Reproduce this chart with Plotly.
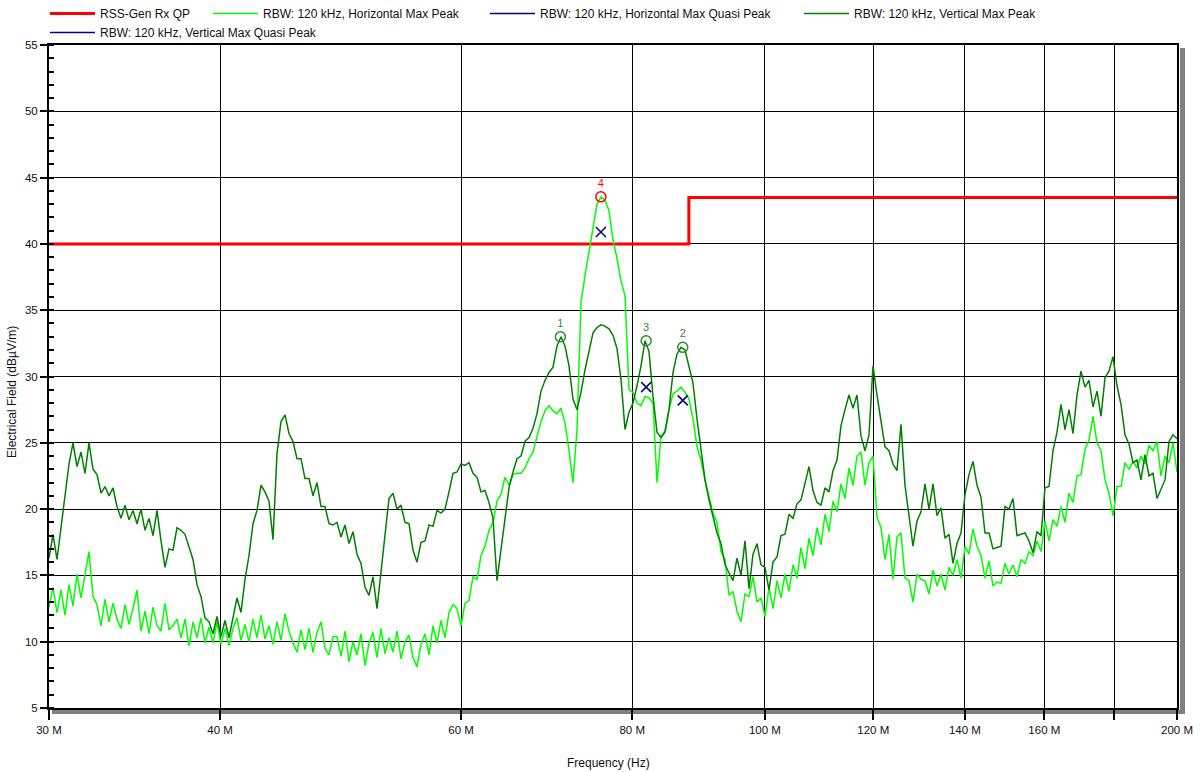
import numpy as np
import plotly.graph_objects as go

# ---- limit line (MHz, dBµV/m) ----
limit_mhz = [30, 88, 88, 200]
limit_db = [40.0, 40.0, 43.5, 43.5]

# ---- max-peak sweeps (dBµV/m), one value per sweep point ----
horiz_peak = [
    12.6, 14.1, 12.2, 13.9, 12.0, 14.3, 12.7, 15.1, 13.3, 15.2,
    16.8, 13.4, 12.8, 11.2, 13.2, 11.5, 12.9, 11.7, 11.0, 12.8,
    11.3, 12.5, 13.9, 10.8, 12.3, 10.6, 12.6, 11.2, 10.8, 12.9,
    10.9, 11.2, 11.7, 10.3, 11.7, 9.7, 11.5, 10.3, 11.8, 9.9,
    11.1, 9.9, 11.5, 9.8, 11.0, 9.7, 11.0, 11.8, 10.1, 11.3,
    10.0, 11.7, 10.3, 12.0, 10.2, 11.2, 9.8, 11.5, 10.1, 12.1,
    10.8, 9.9, 9.2, 10.9, 9.4, 11.0, 9.2, 10.7, 11.5, 9.5,
    9.0, 10.4,
    10.4, 8.9, 10.8, 8.5, 10.0, 9.0, 10.6, 8.2, 9.9, 10.7,
    8.8, 11.0, 9.1, 10.3, 9.2, 10.8, 8.7, 10.0, 10.5, 8.8,
    8.1, 9.8, 10.6, 9.0, 11.2, 9.9, 11.6, 10.3, 12.2, 12.8,
    12.5, 11.2, 12.9, 13.1, 14.9, 14.7, 16.5, 17.2, 18.4, 19.0,
    20.6, 21.1, 22.4, 21.8, 22.6, 22.7, 22.7, 23.1, 23.8, 24.3,
    25.5, 26.6, 27.4, 27.8, 27.4, 27.2, 27.6, 26.5, 24.4, 22.0,
    26.0, 35.6, 37.6, 39.4, 41.3, 43.0, 43.55, 43.3, 42.5, 40.3,
    38.9,
    37.2, 36.1, 29.0, 28.8, 28.0, 27.8, 28.5, 28.4, 28.0, 22.0,
    25.5, 25.9, 27.5, 28.7, 28.9, 29.2, 28.8, 28.3, 26.8, 24.7,
    23.7, 22.2, 20.9, 19.7, 19.0, 16.8, 16.2, 13.5, 13.8, 12.3,
    11.5, 13.6, 13.4, 14.9, 13.0, 13.3, 11.9, 14.1, 12.5, 14.6,
    13.3, 15.1, 13.8, 15.8, 14.8, 17.1, 15.5, 17.8, 16.5, 18.6,
    17.3, 19.6, 18.3, 20.6, 19.8, 21.9, 20.8, 23.1, 21.8, 24.0,
    24.3, 21.8, 23.5, 24.0, 19.4, 18.6, 16.2, 18.1, 14.7, 17.9,
    18.2, 14.8, 14.6, 13.0, 15.1, 14.7, 14.6, 13.6, 15.4, 14.2,
    15.1, 13.9, 15.6, 15.0, 16.2, 14.8, 17.2, 16.6, 18.5, 17.2,
    16.5, 14.8, 16.1, 14.2, 14.5, 14.4, 15.9, 15.1, 15.8, 14.9,
    16.2, 15.9, 16.8, 16.5, 17.6, 16.8, 19.1, 17.6, 19.2, 18.7,
    20.2, 19.0, 21.2, 20.5, 22.5, 22.6, 24.5, 25.2, 27.0, 25.0,
    24.4, 22.2, 21.2, 19.5, 21.7, 21.7, 23.5, 23.0, 23.6, 23.1,
    24.0, 23.4, 24.8, 24.4, 25.1, 22.5, 24.0, 23.5, 25.0, 22.8,
]

vert_peak = [
    16.3, 18.1, 16.2, 18.6, 20.6, 23.4, 25.0, 23.2, 24.3, 22.7,
    25.0, 23.0, 22.6, 21.2, 21.7, 21.0, 21.6, 20.2, 19.3, 20.3,
    19.2, 19.9, 18.9, 20.0, 18.4, 19.3, 18.0, 19.9, 17.6, 15.6,
    17.0, 16.9, 18.6, 18.4, 18.1, 17.2, 16.2, 14.3, 13.4, 11.8,
    11.5, 10.6, 11.9, 10.4, 11.6, 10.3, 11.9, 13.3, 12.2, 14.7,
    16.5, 18.9, 19.9, 21.8, 21.3, 20.6, 17.7, 24.2, 26.6, 27.1,
    25.7, 25.1, 23.8, 23.8, 22.3, 22.3, 21.0, 22.0, 20.2, 20.2,
    18.9, 18.8,
    19.0, 17.9, 18.8, 17.4, 18.3, 16.6, 15.9, 14.1, 13.5, 14.9,
    12.5, 15.4, 18.2, 20.8, 21.2, 20.0, 20.3, 19.0, 18.9, 16.9,
    16.0, 17.5, 17.6, 18.8, 18.7, 19.9, 19.7, 20.0, 21.3, 22.7,
    22.8, 23.4, 23.3, 23.5, 22.7, 22.4, 21.3, 21.4, 20.5, 19.3,
    14.6, 17.0, 19.5, 21.6, 22.8, 23.8, 24.0, 25.1, 25.4, 26.1,
    27.2, 28.9, 29.7, 30.3, 30.7, 32.3, 33.0, 32.3, 30.8, 28.3,
    27.5, 28.8, 30.5, 32.0, 33.3, 33.7, 33.9, 33.8, 33.6, 33.1,
    32.1,
    29.8, 26.0, 27.3, 28.0, 29.3, 30.8, 32.7, 31.9, 28.5, 25.8,
    25.4, 25.8, 27.5, 30.3, 31.7, 32.2, 32.0, 30.8, 29.5, 26.8,
    24.5, 22.2, 20.7, 19.5, 18.2, 17.4, 15.8, 15.2, 14.6, 16.3,
    15.0, 17.6, 14.0, 16.6, 17.4, 15.8, 15.6, 13.9, 16.0, 16.4,
    18.0, 18.1, 19.6, 19.3, 20.4, 20.7, 22.0, 23.2, 21.4, 20.5,
    20.3, 21.6, 21.3, 22.9, 23.7, 26.3, 27.5, 28.6, 27.6, 28.6,
    25.5, 24.4, 25.6, 30.8, 28.6, 26.6, 24.7, 24.4, 23.4, 22.9,
    26.4, 21.8, 19.6, 17.2, 19.1, 19.8, 21.9, 20.0, 21.9, 19.5,
    20.1, 17.8, 18.1, 15.9, 17.4, 18.2, 21.1, 22.6, 23.6, 21.8,
    20.9, 18.2, 18.2, 17.0, 17.1, 17.2, 20.2, 20.0, 20.8, 18.0,
    18.1, 18.2, 17.6, 16.7, 18.3, 18.0, 21.6, 21.7, 24.4, 25.8,
    27.9, 26.0, 27.5, 25.7, 28.6, 30.4, 29.2, 29.7, 27.7, 28.9,
    27.0, 29.9, 30.4, 31.5, 29.3, 27.9, 25.6, 24.9, 23.5, 23.7,
    22.2, 24.1, 22.5, 22.7, 20.8, 21.5, 22.2, 25.1, 25.6, 25.3,
]

# sweep points are evenly spaced on the log frequency axis, 30 MHz to 200 MHz
sweep_hz = np.geomspace(30e6, 200e6, len(vert_peak))

# ---- peak markers ----
peak_labels = ["1", "2", "3", "4"]
peak_mhz = [70.9, 87.1, 81.9, 75.9]
peak_db = [33.0, 32.2, 32.7, 43.55]
peak_colors = ["#2E8B2E", "#2E8B2E", "#2E8B2E", "#FF0000"]

# ---- quasi-peak results ----
hqp_mhz = [75.9]
hqp_db = [40.9]
vqp_mhz = [81.9, 87.1]
vqp_db = [29.2, 28.2]

# ---- axis ticks ----
xtick_mhz = [30, 40, 60, 80, 100, 120, 140, 160, 180, 200]
xtick_text = ["30 M", "40 M", "60 M", "80 M", "100 M", "120 M", "140 M", "160 M", "", "200 M"]
ytick_vals = [5, 10, 15, 20, 25, 30, 35, 40, 45, 50, 55]

FONT = "Liberation Sans, Arial, sans-serif"
RED = "#FF0000"
LIME = "#00FF00"
DARK = "#007F00"
NAVY = "#000080"

# plot-area geometry in pixels
W, H = 1202, 772
ML, MR, MT, MB = 49, 25, 45, 64
PW, PH = W - ML - MR, H - MT - MB


def px_x(px):
    return (px - ML) / PW


def px_y(py):
    return (H - MB - py) / PH


fig = go.Figure()

fig.add_trace(go.Scatter(
    x=[f * 1e6 for f in limit_mhz], y=limit_db, mode="lines",
    line=dict(color=RED, width=3), name="RSS-Gen Rx QP", legend="legend"))

fig.add_trace(go.Scatter(
    x=sweep_hz, y=horiz_peak, mode="lines",
    line=dict(color=LIME, width=1.5), name="RBW: 120 kHz, Horizontal Max Peak",
    legend="legend2"))

fig.add_trace(go.Scatter(
    x=[None], y=[None], mode="lines", line=dict(color=NAVY, width=1.5),
    name="RBW: 120 kHz, Horizontal Max Quasi Peak", legend="legend3",
    legendgroup="hqp"))
fig.add_trace(go.Scatter(
    x=[f * 1e6 for f in hqp_mhz], y=hqp_db, mode="markers",
    marker=dict(symbol="x-thin", size=10, color=NAVY, line=dict(color=NAVY, width=1.5)),
    showlegend=False, legendgroup="hqp",
    name="RBW: 120 kHz, Horizontal Max Quasi Peak"))

fig.add_trace(go.Scatter(
    x=sweep_hz, y=vert_peak, mode="lines",
    line=dict(color=DARK, width=1.5), name="RBW: 120 kHz, Vertical Max Peak",
    legend="legend4"))

fig.add_trace(go.Scatter(
    x=[None], y=[None], mode="lines", line=dict(color=NAVY, width=1.5),
    name="RBW: 120 kHz, Vertical Max Quasi Peak", legend="legend5",
    legendgroup="vqp"))
fig.add_trace(go.Scatter(
    x=[f * 1e6 for f in vqp_mhz], y=vqp_db, mode="markers",
    marker=dict(symbol="x-thin", size=10, color=NAVY, line=dict(color=NAVY, width=1.5)),
    showlegend=False, legendgroup="vqp",
    name="RBW: 120 kHz, Vertical Max Quasi Peak"))

fig.add_trace(go.Scatter(
    x=[f * 1e6 for f in peak_mhz], y=peak_db, mode="markers+text",
    text=peak_labels, textposition="top center",
    textfont=dict(family=FONT, size=11, color=peak_colors),
    marker=dict(symbol="circle-open", size=10, color=peak_colors,
                line=dict(color=peak_colors, width=1.5)),
    showlegend=False, name="Markers"))

# one legend box per entry, laid out in two rows above the plot
row1, row2 = 1 - 13.5 / H, 1 - 32.5 / H
legend_pos = {
    "legend": (45, row1),
    "legend2": (208, row1),
    "legend3": (485, row1),
    "legend4": (799, row1),
    "legend5": (45, row2),
}
legend_layout = {}
for key, (lx, ly) in legend_pos.items():
    legend_layout[key] = dict(
        x=lx / W, y=ly, xref="container", yref="container",
        xanchor="left", yanchor="middle",
        orientation="h", bgcolor="rgba(0,0,0,0)", borderwidth=0,
        itemwidth=45, font=dict(family=FONT, size=12, color="#111"),
    )

fig.update_layout(
    width=W, height=H,
    margin=dict(l=ML, r=MR, t=MT, b=MB, autoexpand=False),
    paper_bgcolor="white", plot_bgcolor="white",
    font=dict(family=FONT, size=11, color="#111"),
    showlegend=True,
    **legend_layout,
)

fig.update_xaxes(
    type="log", range=[np.log10(30e6), np.log10(200e6)],
    tickvals=[f * 1e6 for f in xtick_mhz], ticktext=xtick_text,
    ticks="outside", ticklen=10, tickwidth=2, tickcolor="black",
    showgrid=True, gridcolor="black", gridwidth=1,
    showline=True, linecolor="black", linewidth=2, mirror=True,
    zeroline=False, tickfont=dict(family=FONT, size=11.5, color="#111"),
)
fig.update_yaxes(
    range=[5, 55], tickvals=ytick_vals,
    ticks="outside", ticklen=7, tickwidth=1.5, tickcolor="black",
    minor=dict(dtick=1, ticks="inside", ticklen=5, tickwidth=1.5,
               tickcolor="black", showgrid=False),
    showgrid=True, gridcolor="black", gridwidth=1,
    showline=True, linecolor="black", linewidth=2, mirror=True,
    zeroline=False, tickfont=dict(family=FONT, size=11.5, color="#111"),
)

# axis titles
fig.add_annotation(text="Frequency (Hz)", x=px_x(608), y=px_y(763),
                   xref="paper", yref="paper", showarrow=False,
                   xanchor="center", yanchor="middle",
                   font=dict(family=FONT, size=12, color="#111"))
fig.add_annotation(text="Electrical Field (dBµV/m)", x=px_x(12), y=px_y(392),
                   xref="paper", yref="paper", showarrow=False, textangle=-90,
                   xanchor="center", yanchor="middle",
                   font=dict(family=FONT, size=12, color="#111"))

# drop shadow along the bottom and right edges of the frame
SHADOW = "#808080"
fig.add_shape(type="rect", xref="paper", yref="paper",
              x0=px_x(52), x1=px_x(1185), y0=px_y(714), y1=px_y(710),
              fillcolor=SHADOW, line=dict(width=0), layer="below")
fig.add_shape(type="rect", xref="paper", yref="paper",
              x0=px_x(1180), x1=px_x(1185), y0=px_y(714), y1=px_y(48),
              fillcolor=SHADOW, line=dict(width=0), layer="below")

fig.write_html("out.html")
